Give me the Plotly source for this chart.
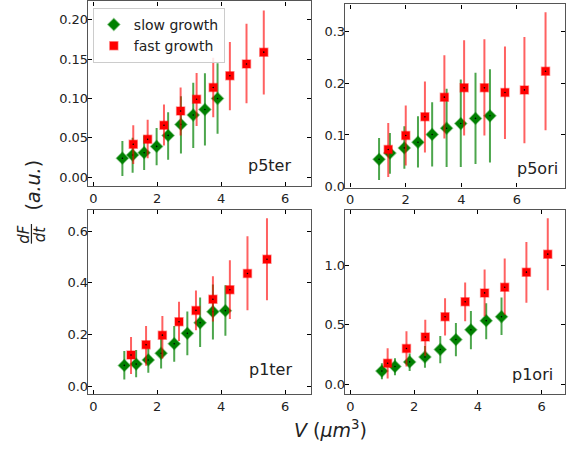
import plotly.graph_objects as go

# ---------------- data ----------------
panels = ["p5ter", "p5ori", "p1ter", "p1ori"]

p5ter_slow_x = [0.91, 1.23, 1.59, 1.98, 2.34, 2.74, 3.125, 3.49, 3.885]
p5ter_slow_y = [0.024, 0.028, 0.031, 0.039, 0.053, 0.067, 0.079, 0.086, 0.100]
p5ter_slow_hi = [0.046, 0.050, 0.053, 0.0625, 0.0825, 0.103, 0.120, 0.132, 0.145]
p5ter_slow_lo = [0.0013, 0.0054, 0.009, 0.015, 0.022, 0.030, 0.037, 0.040, 0.055]
p5ter_fast_x = [1.25, 1.70, 2.21, 2.73, 3.23, 3.75, 4.27, 4.79, 5.33]
p5ter_fast_y = [0.0417, 0.048, 0.066, 0.084, 0.099, 0.114, 0.129, 0.144, 0.159]
p5ter_fast_hi = [0.066, 0.073, 0.0925, 0.114, 0.1325, 0.152, 0.172, 0.195, 0.212]
p5ter_fast_lo = [0.0167, 0.024, 0.040, 0.053, 0.065, 0.076, 0.085, 0.094, 0.105]

p5ori_slow_x = [1.04, 1.43, 1.95, 2.44, 2.95, 3.47, 3.98, 4.51, 5.03]
p5ori_slow_y = [0.053, 0.065, 0.075, 0.086, 0.101, 0.113, 0.122, 0.132, 0.137]
p5ori_slow_hi = [0.094, 0.104, 0.117, 0.136, 0.163, 0.189, 0.207, 0.220, 0.227]
p5ori_slow_lo = [0.013, 0.025, 0.035, 0.037, 0.039, 0.038, 0.038, 0.044, 0.047]
p5ori_fast_x = [1.37, 2.00, 2.69, 3.39, 4.10, 4.83, 5.57, 6.27, 7.03]
p5ori_fast_y = [0.072, 0.099, 0.135, 0.173, 0.191, 0.191, 0.182, 0.187, 0.223]
p5ori_fast_hi = [0.123, 0.157, 0.203, 0.254, 0.283, 0.285, 0.271, 0.289, 0.337]
p5ori_fast_lo = [0.019, 0.041, 0.066, 0.093, 0.099, 0.099, 0.092, 0.084, 0.109]

p1ter_slow_x = [0.97, 1.34, 1.72, 2.12, 2.53, 2.94, 3.34, 3.74, 4.13]
p1ter_slow_y = [0.080, 0.085, 0.101, 0.127, 0.164, 0.204, 0.245, 0.288, 0.292]
p1ter_slow_hi = [0.136, 0.140, 0.155, 0.186, 0.233, 0.289, 0.343, 0.393, 0.390]
p1ter_slow_lo = [0.025, 0.034, 0.051, 0.068, 0.094, 0.119, 0.151, 0.180, 0.195]
p1ter_fast_x = [1.18, 1.65, 2.16, 2.68, 3.21, 3.74, 4.27, 4.82, 5.43]
p1ter_fast_y = [0.120, 0.160, 0.197, 0.249, 0.293, 0.336, 0.373, 0.436, 0.491]
p1ter_fast_hi = [0.190, 0.233, 0.271, 0.326, 0.370, 0.425, 0.487, 0.580, 0.650]
p1ter_fast_lo = [0.047, 0.079, 0.107, 0.174, 0.216, 0.250, 0.260, 0.294, 0.332]

p1ori_slow_x = [0.99, 1.40, 1.86, 2.34, 2.82, 3.31, 3.78, 4.26, 4.74]
p1ori_slow_y = [0.110, 0.148, 0.187, 0.228, 0.291, 0.374, 0.456, 0.533, 0.566]
p1ori_slow_hi = [0.176, 0.217, 0.258, 0.321, 0.404, 0.514, 0.615, 0.679, 0.728]
p1ori_slow_lo = [0.041, 0.074, 0.110, 0.137, 0.176, 0.234, 0.294, 0.376, 0.412]
p1ori_fast_x = [1.17, 1.76, 2.35, 2.97, 3.60, 4.21, 4.84, 5.52, 6.19]
p1ori_fast_y = [0.176, 0.299, 0.396, 0.566, 0.692, 0.766, 0.813, 0.940, 1.091]
p1ori_fast_hi = [0.302, 0.445, 0.541, 0.720, 0.854, 0.962, 1.055, 1.192, 1.393]
p1ori_fast_lo = [0.047, 0.148, 0.239, 0.409, 0.527, 0.569, 0.582, 0.684, 0.788]

x_ticks = [0, 2, 4, 6]
y_ticks = {
    "p5ter": [0.00, 0.05, 0.10, 0.15, 0.20],
    "p5ori": [0.0, 0.1, 0.2, 0.3],
    "p1ter": [0.0, 0.2, 0.4, 0.6],
    "p1ori": [0.0, 0.5, 1.0],
}
series_names = ["slow growth", "fast growth"]

data = {
    "p5ter": [(p5ter_slow_x, p5ter_slow_y, p5ter_slow_hi, p5ter_slow_lo),
              (p5ter_fast_x, p5ter_fast_y, p5ter_fast_hi, p5ter_fast_lo)],
    "p5ori": [(p5ori_slow_x, p5ori_slow_y, p5ori_slow_hi, p5ori_slow_lo),
              (p5ori_fast_x, p5ori_fast_y, p5ori_fast_hi, p5ori_fast_lo)],
    "p1ter": [(p1ter_slow_x, p1ter_slow_y, p1ter_slow_hi, p1ter_slow_lo),
              (p1ter_fast_x, p1ter_fast_y, p1ter_fast_hi, p1ter_fast_lo)],
    "p1ori": [(p1ori_slow_x, p1ori_slow_y, p1ori_slow_hi, p1ori_slow_lo),
              (p1ori_fast_x, p1ori_fast_y, p1ori_fast_hi, p1ori_fast_lo)],
}

# ---------------- layout helpers ----------------
W, H = 566, 452
def fx(p):
    return p / W
def fy(p):
    return 1 - p / H

# pixel boxes: (left, right, top, bottom)
boxes = {
    "p5ter": (88, 312, 1.5, 189),
    "p5ori": (345.5, 566, 4.5, 190.5),
    "p1ter": (88, 312, 213, 400.5),
    "p1ori": (345.5, 566, 213, 400.5),
}
x_ranges = {
    "p5ter": [-0.17, 6.82],
    "p5ori": [-0.19, 7.73],
    "p1ter": [-0.17, 6.82],
    "p1ori": [-0.17, 6.73],
}
y_ranges = {
    "p5ter": [-0.0115, 0.2235],
    "p5ori": [-0.0015, 0.352],
    "p1ter": [-0.032, 0.683],
    "p1ori": [-0.085, 1.464],
}
y_fmt = {"p5ter": ".2f", "p5ori": ".1f", "p1ter": ".1f", "p1ori": ".1f"}
label_pos = {  # (right edge px, middle px)
    "p5ter": (294, 168),
    "p5ori": (561, 171),
    "p1ter": (295, 375),
    "p1ori": (556, 380),
}

FONT = "DejaVu Sans"
TXT = "#222222"
SPINE = "#555555"

styles = [
    dict(symbol="diamond", size=9, color="#008000",
         line=dict(color="rgba(0,128,0,0.45)", width=1.5),
         err="rgba(0,128,0,0.7)"),
    dict(symbol="square", size=8, color="#ff0000",
         line=dict(color="rgba(255,0,0,0.4)", width=1.5),
         err="rgba(255,0,0,0.62)"),
]

fig = go.Figure()
layout = dict()
annotations = []

for i, name in enumerate(panels):
    k = "" if i == 0 else str(i + 1)
    xa, ya = "x" + k, "y" + k
    l, r, t, b = boxes[name]
    axis_common = dict(
        showline=True, linecolor=SPINE, linewidth=1.3, mirror="ticks",
        ticks="inside", ticklen=4, tickwidth=1, tickcolor="black",
        showgrid=False, zeroline=False,
        tickfont=dict(family=FONT, size=13, color=TXT),
    )
    layout["xaxis" + k] = dict(
        domain=[fx(l), fx(r)], range=x_ranges[name], anchor=ya,
        tickvals=x_ticks, **axis_common)
    layout["yaxis" + k] = dict(
        domain=[fy(b), fy(t)], range=y_ranges[name], anchor=xa,
        tickvals=y_ticks[name], tickformat=y_fmt[name],
        ticklabelstandoff=-4, **axis_common)

    for j, (xs, ys, hi, lo) in enumerate(data[name]):
        st = styles[j]
        fig.add_trace(go.Scatter(
            x=xs, y=ys, mode="markers", xaxis=xa, yaxis=ya,
            name=series_names[j], showlegend=(i == 0), legendgroup=series_names[j],
            marker=dict(symbol=st["symbol"], size=st["size"], color=st["color"],
                        line=st["line"]),
            error_y=dict(type="data", symmetric=False,
                         array=[h - v for h, v in zip(hi, ys)],
                         arrayminus=[v - q for v, q in zip(ys, lo)],
                         color=st["err"], thickness=2, width=0),
        ))
        fig.add_trace(go.Scatter(
            x=xs, y=ys, mode="markers", xaxis=xa, yaxis=ya, showlegend=False,
            hoverinfo="skip", marker=dict(size=1.6, color="black"),
        ))

    rx, my = label_pos[name]
    annotations.append(dict(
        text=name, xref="paper", yref="paper", x=fx(rx), y=fy(my),
        xanchor="right", yanchor="middle", showarrow=False,
        font=dict(family=FONT, size=16, color=TXT)))

# axis titles
annotations.append(dict(
    text="<i>V</i> (<i>μm</i><sup>3</sup>)", xref="paper", yref="paper",
    x=fx(331), y=fy(436), xanchor="center", yanchor="middle", showarrow=False,
    font=dict(family=FONT, size=19, color=TXT)))
annotations.append(dict(
    text="(<i>a.u.</i>)", xref="paper", yref="paper", textangle=-90,
    x=fx(33.5), y=fy(188), xanchor="center", yanchor="middle", showarrow=False,
    font=dict(family=FONT, size=19, color=TXT)))
annotations.append(dict(
    text="<i>dF</i>", xref="paper", yref="paper", textangle=-90,
    x=fx(24), y=fy(237.5), xanchor="center", yanchor="middle", showarrow=False,
    font=dict(family=FONT, size=15, color=TXT)))
annotations.append(dict(
    text="<i>dt</i>", xref="paper", yref="paper", textangle=-90,
    x=fx(39.5), y=fy(237.5), xanchor="center", yanchor="middle", showarrow=False,
    font=dict(family=FONT, size=15, color=TXT)))

shapes = [dict(type="line", xref="paper", yref="paper",
               x0=fx(31.5), x1=fx(31.5), y0=fy(227.5), y1=fy(247.5),
               line=dict(color=TXT, width=1.2))]

fig.update_layout(
    width=W, height=H, margin=dict(l=0, r=0, t=0, b=0),
    paper_bgcolor="white", plot_bgcolor="white",
    font=dict(family=FONT, color=TXT),
    showlegend=True,
    legend=dict(x=fx(93), y=fy(8), xanchor="left", yanchor="top",
                bgcolor="rgba(255,255,255,0.85)", bordercolor="#cccccc",
                borderwidth=1, font=dict(family=FONT, size=14, color=TXT),
                tracegroupgap=0, itemsizing="trace"),
    annotations=annotations, shapes=shapes,
    **layout,
)

fig.write_html(
    "out.html",
    config={"displayModeBar": False},
    post_script="document.body.style.margin='0';document.body.style.overflow='hidden';",
)
